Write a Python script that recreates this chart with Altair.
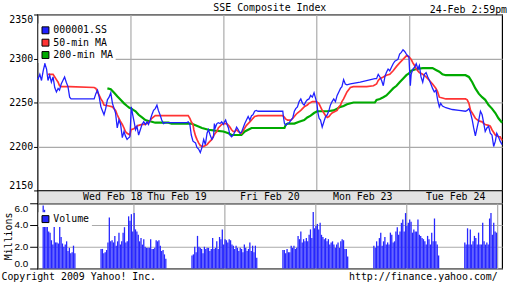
import altair as alt
import pandas as pd

FONT = "DejaVu Sans Mono"

# ---- data -------------------------------------------------------------
series_names = ["000001.SS", "50-min MA", "200-min MA"]
series_colors = ["#2020ff", "#ff3333", "#00aa00"]
series_widths = [1.3, 1.7, 2.2]

# trading minutes since Wed 09:30 (each day spans 330 min: 09:30-15:00)
blue = [(0, 2278), (2, 2277), (8, 2282), (14, 2275), (20, 2286), (26, 2294), (32, 2288), (37, 2275),
        (43, 2281), (49, 2273), (55, 2279), (61, 2267), (67, 2262), (73, 2266), (78, 2264), (84, 2271),
        (90, 2275), (96, 2279), (102, 2273), (108, 2268), (114, 2256), (119, 2254), (201, 2254), (207, 2260),
        (213, 2264), (219, 2256), (225, 2245), (231, 2240), (236, 2236), (242, 2243), (248, 2253), (254, 2256),
        (260, 2261), (266, 2249), (272, 2243), (277, 2238), (283, 2221), (289, 2230), (295, 2225), (301, 2210),
        (307, 2217), (312, 2212), (318, 2208), (324, 2210), (328, 2211),
        (333, 2245), (338, 2236), (343, 2228), (348, 2219), (353, 2223), (359, 2213), (365, 2219), (371, 2225),
        (377, 2228), (383, 2225), (389, 2228), (394, 2225), (400, 2230), (406, 2236), (412, 2241), (418, 2243),
        (424, 2247), (429, 2241), (435, 2236), (441, 2230), (447, 2226), (453, 2227), (529, 2227), (535, 2228),
        (541, 2225), (546, 2213), (552, 2206), (561, 2204), (566, 2199), (572, 2197), (578, 2193), (584, 2199),
        (590, 2208), (596, 2202), (602, 2215), (607, 2219), (613, 2213), (619, 2208), (625, 2211), (628, 2226),
        (631, 2221), (637, 2226), (642, 2227), (648, 2226), (654, 2228), (660, 2225),
        (664, 2228), (668, 2230), (673, 2225), (678, 2221), (683, 2213), (689, 2211), (695, 2213), (701, 2217),
        (707, 2222), (713, 2219), (719, 2215), (724, 2216), (730, 2221), (736, 2226), (742, 2230), (748, 2234),
        (754, 2230), (760, 2235), (765, 2236), (771, 2240), (777, 2241), (783, 2240), (871, 2240), (873, 2234),
        (877, 2226), (882, 2224), (888, 2226), (894, 2227), (900, 2230), (906, 2232), (912, 2240), (917, 2243),
        (923, 2245), (929, 2251), (935, 2254), (941, 2249), (947, 2247), (953, 2251), (958, 2253), (964, 2254),
        (970, 2258), (976, 2256), (982, 2261), (988, 2254),
        (992, 2249), (996, 2238), (1000, 2232), (1005, 2230), (1011, 2222), (1017, 2228), (1023, 2234),
        (1029, 2236), (1035, 2241), (1040, 2247), (1046, 2251), (1052, 2254), (1058, 2251), (1064, 2258),
        (1070, 2262), (1076, 2266), (1081, 2268), (1087, 2276), (1093, 2271), (1099, 2270), (1111, 2271),
        (1146, 2273), (1198, 2277), (1204, 2277), (1210, 2282), (1216, 2279), (1222, 2275), (1228, 2269),
        (1234, 2280), (1239, 2284), (1245, 2288), (1251, 2286), (1257, 2290), (1263, 2294), (1269, 2297),
        (1275, 2298), (1280, 2299), (1286, 2305), (1292, 2307), (1298, 2310), (1304, 2308), (1310, 2305),
        (1315, 2303), (1319, 2302),
        (1324, 2269), (1327, 2282), (1333, 2288), (1339, 2290), (1345, 2294), (1351, 2288), (1356, 2292),
        (1362, 2279), (1368, 2273), (1374, 2282), (1380, 2284), (1386, 2279), (1392, 2275), (1397, 2271),
        (1403, 2266), (1409, 2262), (1415, 2264), (1421, 2253), (1427, 2245), (1432, 2249), (1438, 2246),
        (1450, 2244), (1473, 2242), (1497, 2241), (1520, 2240), (1526, 2241), (1532, 2243), (1538, 2238),
        (1544, 2230), (1549, 2221), (1555, 2212), (1561, 2221), (1567, 2230), (1573, 2240), (1579, 2236),
        (1585, 2226), (1590, 2217), (1596, 2221), (1602, 2223), (1608, 2215), (1614, 2213), (1620, 2200),
        (1626, 2206), (1631, 2215), (1637, 2211), (1643, 2206), (1650, 2202)]

red = [(37, 2282), (55, 2282), (61, 2279), (67, 2276), (73, 2273), (78, 2269), (84, 2268), (114, 2268),
       (201, 2267), (207, 2266), (213, 2262), (219, 2258), (225, 2254), (231, 2251), (236, 2247), (254, 2246),
       (266, 2245), (277, 2241), (283, 2236), (289, 2232), (295, 2228), (301, 2225), (307, 2221), (312, 2217),
       (318, 2215), (328, 2213),
       (332, 2219), (342, 2220), (348, 2222), (359, 2224), (371, 2225), (383, 2225), (394, 2227), (406, 2232),
       (418, 2235), (535, 2235), (541, 2232), (546, 2228), (552, 2225), (555, 2219), (561, 2212), (566, 2208),
       (572, 2204), (578, 2201), (584, 2200), (590, 2200), (596, 2201), (602, 2202), (607, 2204), (613, 2206),
       (619, 2208), (625, 2212), (631, 2215), (637, 2217), (642, 2221), (648, 2223), (654, 2225), (660, 2226),
       (666, 2226), (672, 2226), (678, 2224), (683, 2222), (689, 2219), (695, 2217), (701, 2217), (707, 2219),
       (713, 2217), (724, 2215), (730, 2218), (736, 2221), (742, 2224), (748, 2226), (754, 2228), (760, 2230),
       (765, 2232), (771, 2234), (783, 2235), (871, 2235), (877, 2233), (882, 2231), (888, 2230), (900, 2230),
       (906, 2232), (912, 2234), (917, 2236), (923, 2238), (935, 2241), (941, 2243), (947, 2245), (958, 2247),
       (964, 2249), (970, 2250), (976, 2251), (990, 2251),
       (999, 2249), (1005, 2245), (1011, 2241), (1017, 2238), (1023, 2235), (1029, 2233), (1035, 2234),
       (1040, 2236), (1046, 2238), (1058, 2240), (1064, 2241), (1070, 2245), (1076, 2247), (1081, 2251),
       (1087, 2254), (1093, 2258), (1099, 2262), (1111, 2267), (1122, 2268), (1169, 2268), (1193, 2269),
       (1204, 2271), (1210, 2275), (1216, 2277), (1228, 2279), (1239, 2281), (1251, 2282), (1263, 2286),
       (1275, 2291), (1286, 2295), (1298, 2299), (1310, 2303), (1319, 2302),
       (1327, 2299), (1333, 2295), (1339, 2292), (1345, 2288), (1356, 2284), (1368, 2282), (1380, 2279),
       (1392, 2275), (1403, 2271), (1415, 2266), (1421, 2262), (1427, 2256), (1438, 2255), (1450, 2254),
       (1520, 2254), (1526, 2253), (1532, 2249), (1538, 2241), (1544, 2238), (1555, 2232), (1567, 2229),
       (1579, 2228), (1585, 2226), (1590, 2225), (1602, 2224), (1608, 2223), (1614, 2219), (1626, 2213),
       (1637, 2211), (1643, 2211), (1650, 2207)]

green = [(248, 2266), (260, 2265), (272, 2261), (283, 2257), (295, 2253), (307, 2249), (318, 2246), (326, 2244),
         (333, 2243), (348, 2240), (359, 2236), (371, 2233), (383, 2230), (394, 2229), (406, 2228), (418, 2227),
         (465, 2227), (476, 2226), (546, 2226), (561, 2224), (584, 2221), (607, 2219), (631, 2218), (660, 2217),
         (678, 2215), (689, 2213), (724, 2213), (736, 2217), (748, 2219), (760, 2221), (877, 2221), (882, 2225),
         (888, 2226), (912, 2226), (929, 2228), (947, 2230), (958, 2233), (970, 2235), (982, 2238), (993, 2240),
         (1029, 2240), (1052, 2241), (1064, 2243), (1076, 2245), (1087, 2246), (1099, 2248), (1122, 2250),
         (1198, 2250), (1204, 2253), (1216, 2254), (1228, 2256), (1239, 2258), (1251, 2262), (1263, 2266),
         (1275, 2269), (1286, 2273), (1298, 2277), (1310, 2281), (1319, 2283), (1327, 2286), (1345, 2288),
         (1368, 2289), (1403, 2289), (1415, 2287), (1427, 2285), (1438, 2282), (1450, 2281), (1520, 2281),
         (1532, 2279), (1544, 2273), (1555, 2266), (1567, 2260), (1579, 2256), (1590, 2253), (1602, 2247),
         (1614, 2243), (1626, 2238), (1637, 2232), (1650, 2227)]

# 5-minute volume (millions), 24 bars per session
wed_am = [5.8, 5.4, 4.7, 4.2, 3.4, 3.3, 2.6, 2.2, 4.0, 2.4, 2.4, 2.3, 4.2, 2.9, 2.3, 2.0, 2.2, 2.5, 1.6, 1.9, 1.4, 1.5, 2.1, 1.4]
wed_pm = [1.8, 1.8, 1.4, 1.5, 1.7, 2.4, 4.7, 2.5, 2.6, 2.4, 3.0, 2.1, 2.5, 3.3, 2.2, 2.5, 3.3, 3.8, 2.4, 2.5, 4.8, 4.4, 5.0, 3.4]
thu_am = [5.1, 3.6, 3.4, 3.1, 2.5, 2.8, 2.2, 2.7, 2.0, 1.9, 1.9, 1.9, 2.7, 1.8, 1.8, 1.9, 2.6, 2.5, 2.6, 2.1, 1.6, 1.7, 1.3, 0.9]
thu_pm = [1.2, 1.3, 2.0, 1.5, 3.0, 2.0, 1.9, 1.8, 1.4, 2.0, 1.8, 1.9, 1.9, 1.6, 1.8, 2.8, 1.8, 1.9, 2.5, 1.8, 2.9, 2.7, 3.6, 2.2]
fri_am = [2.7, 2.6, 2.4, 2.7, 2.6, 2.2, 2.1, 1.8, 2.1, 1.9, 1.6, 1.9, 1.8, 1.5, 2.2, 1.9, 1.6, 1.8, 2.4, 1.6, 2.1, 1.5, 2.1, 1.0]
fri_pm = [1.7, 1.7, 1.4, 1.8, 1.5, 1.5, 2.1, 1.9, 2.1, 1.8, 1.9, 3.0, 2.7, 3.4, 2.4, 2.7, 2.5, 2.8, 2.5, 3.1, 3.6, 2.8, 5.2, 3.7]
mon_am = [3.9, 4.1, 3.6, 4.2, 3.1, 2.9, 2.7, 2.8, 2.5, 2.7, 2.2, 2.4, 2.5, 2.2, 1.9, 2.2, 2.4, 1.9, 2.5, 2.7, 2.6, 1.8, 1.8, 1.1]
mon_pm = [2.1, 1.9, 2.5, 2.1, 2.8, 3.3, 2.1, 2.5, 2.9, 2.2, 2.4, 2.2, 3.3, 3.1, 2.4, 2.5, 3.4, 3.8, 3.1, 3.4, 4.2, 4.5, 3.4, 5.1]
tue_am = [3.9, 4.2, 4.5, 4.3, 3.3, 3.6, 3.4, 3.4, 4.5, 3.1, 3.0, 2.8, 2.7, 2.5, 2.2, 3.0, 2.7, 2.2, 3.3, 2.5, 4.6, 2.5, 2.2, 1.2]
tue_pm = [2.4, 2.2, 3.7, 2.2, 3.6, 2.2, 2.5, 3.0, 2.8, 2.2, 3.3, 2.2, 2.2, 4.2, 2.5, 2.2, 2.4, 2.2, 4.6, 5.1, 3.1, 4.2, 3.4, 3.3]
sessions = [(wed_am, wed_pm), (thu_am, thu_pm), (fri_am, fri_pm), (mon_am, mon_pm), (tue_am, tue_pm)]

day_labels = ["Wed Feb 18", "Thu Feb 19", "Fri Feb 20", "Mon Feb 23", "Tue Feb 24"]
day_label_t = [267, 495, 825, 1155, 1485]
day_bounds = [330, 660, 990, 1320]
price_ticks = [2150, 2200, 2250, 2300, 2350]
vol_ticks = [0, 2, 4, 6]
title_text = "SSE Composite Index"
stamp_text = "24-Feb 2:59pm"
copyright_text = "Copyright 2009 Yahoo! Inc."
url_text = "http://finance.yahoo.com/"

# ---- tables -----------------------------------------------------------
rows = []
for name, pts in zip(series_names, [blue, red, green]):
    for t, v in pts:
        rows.append({"t": t, "price": v, "series": name})
price_df = pd.DataFrame(rows)

vrows = []
for d, (am, pm) in enumerate(sessions):
    for i, v in enumerate(am):
        vrows.append({"t": d * 330 + 5 * i + 2.5, "vol": v, "kind": "Volume"})
    for i, v in enumerate(pm):
        vrows.append({"t": d * 330 + 210 + 5 * i + 2.5, "vol": v, "kind": "Volume"})
vol_df = pd.DataFrame(vrows)

band_df = pd.DataFrame({"t": day_label_t, "label": day_labels})

# ---- chart ------------------------------------------------------------
W = 470
xscale = alt.Scale(domain=[0, 1650], nice=False, zero=False)

legend_common = dict(title=None, orient="none", legendX=1, legendY=9, padding=2,
                     fillColor="white", symbolType="square", symbolSize=49,
                     symbolStrokeColor="black", symbolStrokeWidth=1, symbolOpacity=1,
                     labelFont=FONT, labelFontSize=10, labelColor="black",
                     rowPadding=0.5, labelOffset=3)

px = alt.X("t:Q", scale=xscale,
           axis=alt.Axis(values=day_bounds, grid=True, labels=False, ticks=False,
                         domain=False, title=None))
py = alt.Y("price:Q", scale=alt.Scale(domain=[2150, 2350], nice=False, zero=False),
           axis=alt.Axis(values=price_ticks, format="d", labelFlush=True, tickSize=4,
                         labelPadding=1, domain=False, grid=True, title=None,
                         labelOverlap=False))

base = alt.Chart(price_df)
layers = []
# draw 200-min MA first and the index last (on top)
for name, col, w in reversed(list(zip(series_names, series_colors, series_widths))):
    layers.append(
        base.transform_filter(alt.datum.series == name)
        .mark_line(color=col, strokeWidth=w)
        .encode(x=px, y=py)
    )
# the legend: a colour scale on a square layer that draws no marks
legend_layer = base.transform_filter("false").mark_square(filled=True).encode(
    x=px, y=py,
    color=alt.Color("series:N", scale=alt.Scale(domain=series_names, range=series_colors),
                    legend=alt.Legend(**legend_common)))

price = alt.layer(*layers, legend_layer).properties(
    width=W, height=178,
    title=alt.TitleParams(title_text, anchor="middle", offset=1))

band = alt.Chart(band_df).mark_text(font=FONT, fontSize=10, color="black", baseline="middle").encode(
    x=alt.X("t:Q", scale=xscale, axis=None),
    text="label:N",
).properties(width=W, height=13, view=alt.ViewBackground(fill="#e2e2e2", stroke="black"))

label_expr = f"datum.value == 1650 ? '{url_text}' : ''"
vol = alt.Chart(vol_df).mark_bar(size=1.3).encode(
    x=alt.X("t:Q", scale=xscale,
            axis=alt.Axis(values=day_bounds + [1650], grid=True, labelExpr=label_expr,
                          labelFlush=False, labelAlign="right", labelOverlap=False,
                          ticks=False, tickSize=0,
                          domain=False, labelPadding=3, title=copyright_text,
                          titleX=-37, titleY=3, titleAlign="left", titleBaseline="top",
                          titleAnchor="start")),
    y=alt.Y("vol:Q", scale=alt.Scale(domain=[0, 6], nice=False, zero=True),
            axis=alt.Axis(values=vol_ticks, format=".1f", labelFlush=True, tickSize=8,
                          labelPadding=2, labelFont="Liberation Sans", domain=False,
                          grid=True, title="Millions",
                          titleX=-24, titleY=33, labelOverlap=False)),
    color=alt.Color("kind:N", scale=alt.Scale(range=["#2626ff"]),
                    legend=alt.Legend(**legend_common)),
).properties(width=W, height=66)

chart = (
    alt.vconcat(price, band, vol, spacing=0, bounds="flush")
    .resolve_scale(color="independent")
    .resolve_legend(color="independent")
    .properties(
        title=alt.TitleParams(stamp_text, anchor="end", offset=0, dy=13),
        padding={"left": 0, "top": 0, "right": 5, "bottom": 0},
        background="white",
    )
    .configure_view(stroke="black", strokeWidth=1.2)
    .configure_axis(gridColor="#aaaaaa", gridWidth=1.2, tickColor="black",
                    labelFont=FONT, labelFontSize=10, labelColor="black",
                    titleFont=FONT, titleFontSize=10, titleFontWeight="normal",
                    titleColor="black")
    .configure_title(font=FONT, fontSize=10, fontWeight="normal", color="black")
)

chart.save("out.html", embed_options={"renderer": "svg", "actions": False})
